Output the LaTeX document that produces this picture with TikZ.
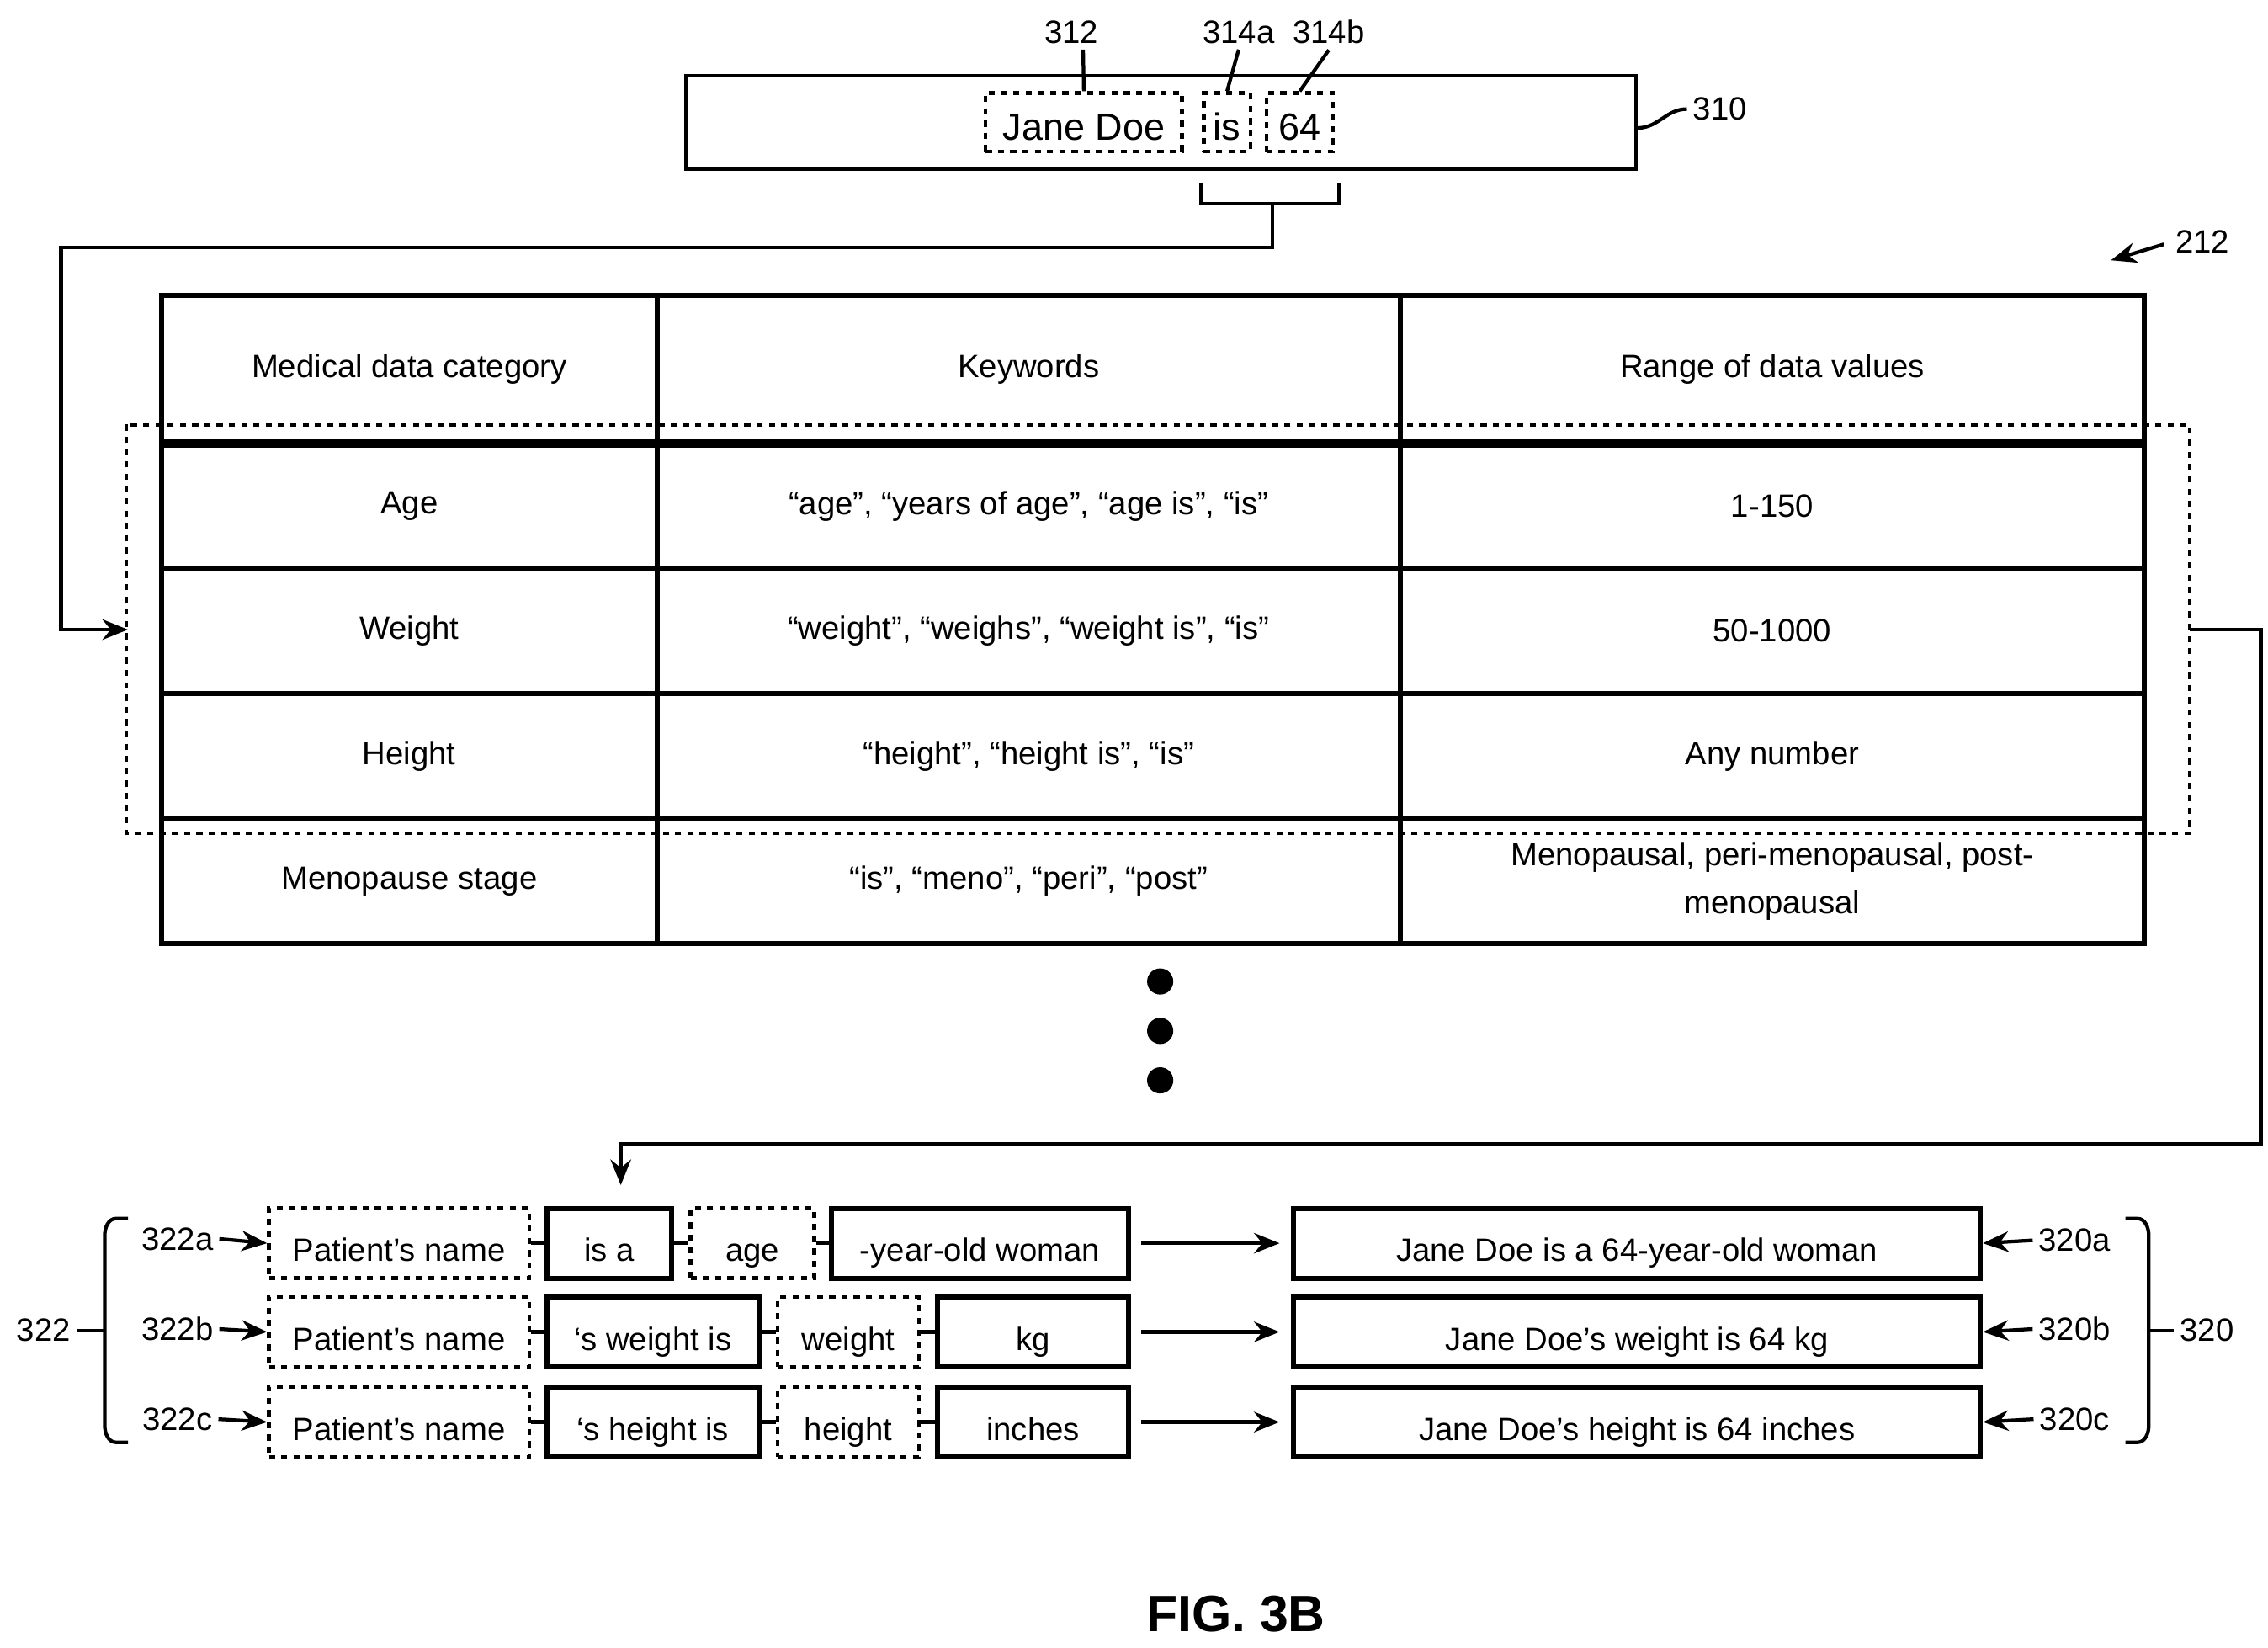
\documentclass[tikz,border=0pt]{standalone}
\usepackage{fontspec}
\setmainfont{Liberation Sans}
\usetikzlibrary{arrows.meta,calc}
\begin{document}
\begin{tikzpicture}[x=0.01cm,y=-0.01cm,
  every node/.style={font=\fontsize{6.3}{7.4}\selectfont},
  ln/.style={line width=0.7pt},
  dsh/.style={draw,dash pattern=on 1.2pt off 1.2pt,line width=0.7pt,inner sep=0,text height=1.45ex,text depth=0.1ex},
  sol/.style={draw,line width=1pt,inner sep=0,text height=1.45ex,text depth=0.1ex},
  arr/.style={line width=0.7pt,-{Stealth[length=5pt,width=4pt]}},
  lbl/.style={inner sep=1pt},
  big/.style={font=\fontsize{7.4}{8.4}\selectfont}]
\useasboundingbox (0,0) rectangle (1560,1133);
% sentence box 310
\node[draw,ln,minimum width=6.53cm,minimum height=0.64cm,inner sep=0] (s310) at (798.5,84) {};
\node[dsh,big,minimum width=1.35cm,minimum height=0.4cm] (jd) at (745.5,84) {Jane Doe};
\node[dsh,big,minimum width=0.32cm,minimum height=0.4cm] (is) at (844,84) {is};
\node[dsh,big,minimum width=0.46cm,minimum height=0.4cm] (n64) at (894,84) {64};
\node[lbl] (l312) at (737,22) {312};
\node[lbl] (l314a) at (852,22) {314a};
\node[lbl] (l314b) at (914,22) {314b};
\node[lbl] (l310) at (1183,75) {310};
\draw[ln] (l312.south) ++(8,0) -- (jd.north);
\draw[ln] (l314a.south) -- (is.north);
\draw[ln] (l314b.south) -- (n64.north);
\draw[ln] ([yshift=-0.04cm]s310.east) to[out=0,in=180] (l310.west);
% brace
\coordinate (bc) at (875,140);
\draw[ln] (826,126) -- (826,140) -- (921,140) -- (921,126);
\coordinate (tin) at (88,433);
\draw[arr] (bc) -- (875,170) -- (42,170) -- (42,433) -- (tin);
% 212
\node[lbl] (l212) at (1515,166) {212};
\draw[arr] (l212.west) ++(-4,2) -- (1452,179);
% table
\draw[line width=1pt] (111,203) rectangle (1475,649);
\foreach \x in {452,963} \draw[line width=1pt] (\x,203) -- (\x,649);
\foreach \y in {391,477,563} \draw[line width=1pt] (111,\y) -- (1475,\y);
\draw[line width=1.6pt] (111,305) -- (1475,305);
\draw[dsh] (87,292) rectangle (1506,573);
\node (h1) at (281.5,254) {Medical data category};
\node (h2) at (707.5,254) {Keywords};
\node (h3) at (1219,254) {Range of data values};
\node (a1) at (281.5,348) {Age};
\node (a2) at (707.5,348) {“age”, “years of age”, “age is”, “is”};
\node (a3) at (1219,348) {1-150};
\node (w1) at (281.5,434) {Weight};
\node (w2) at (707.5,434) {“weight”, “weighs”, “weight is”, “is”};
\node (w3) at (1219,434) {50-1000};
\node (t1) at (281.5,520) {Height};
\node (t2) at (707.5,520) {“height”, “height is”, “is”};
\node (t3) at (1219,520) {Any number};
\node (m1) at (281.5,606) {Menopause stage};
\node (m2) at (707.5,606) {“is”, “meno”, “peri”, “post”};
\node[align=center] (m3) at (1219,606) {Menopausal, peri-menopausal, post-\\[2pt]menopausal};
\foreach \y in {675,709,743} \fill (798,\y) circle (9);
% route to templates
\coordinate (tout) at (1506,433);
\coordinate (tgt) at (427,815);
\draw[arr] (tout) -- (1555,433) -- (1555,787) -- (427,787) -- (tgt);
% templates
\tikzset{bx/.style={minimum height=0.48cm}}
\foreach \r/\y in {a/855,b/916,c/978}{
  \node[dsh,bx,minimum width=1.79cm] (p\r) at (274.5,\y) {Patient’s name};
}
\node[sol,bx,minimum width=0.86cm] (qa) at (419,855) {is a};
\node[dsh,bx,minimum width=0.85cm] (ra) at (517.5,855) {age};
\node[sol,bx,minimum width=2.04cm] (sa) at (674,855) {-year-old woman};
\node[sol,bx,minimum width=1.46cm] (qb) at (449,916) {‘s weight is};
\node[dsh,bx,minimum width=0.97cm] (rb) at (583.5,916) {weight};
\node[sol,bx,minimum width=1.31cm] (sb) at (710.5,916) {kg};
\node[sol,bx,minimum width=1.46cm] (qc) at (449,978) {‘s height is};
\node[dsh,bx,minimum width=0.97cm] (rc) at (583.5,978) {height};
\node[sol,bx,minimum width=1.31cm] (sc) at (710.5,978) {inches};
\node[sol,bx,minimum width=4.72cm] (oa) at (1126,855) {Jane Doe is a 64-year-old woman};
\node[sol,bx,minimum width=4.72cm] (ob) at (1126,916) {Jane Doe’s weight is 64 kg};
\node[sol,bx,minimum width=4.72cm] (oc) at (1126,978) {Jane Doe’s height is 64 inches};
\foreach \r in {a,b,c}{
  \draw[ln] (p\r) -- (q\r);
  \draw[ln] (q\r) -- (r\r);
  \draw[ln] (r\r) -- (s\r);
  \draw[arr] ([xshift=0.07cm]s\r.east) -- ([xshift=-0.08cm]o\r.west);
}
\node[lbl] (l322a) at (122,852) {322a};
\node[lbl] (l322b) at (122,914) {322b};
\node[lbl] (l322c) at (122,976) {322c};
\node[lbl] (l320a) at (1427,853) {320a};
\node[lbl] (l320b) at (1427,914) {320b};
\node[lbl] (l320c) at (1427,976) {320c};
\foreach \r in {a,b,c}{
  \draw[arr] (l322\r.east) -- (p\r.west);
  \draw[arr] (l320\r.west) -- (o\r.east);
}
% side braces
\node[lbl] (l322) at (30,915) {322};
\node[lbl] (l320) at (1518,915) {320};
\draw[ln] (88,838) -- (80,838) to[out=180,in=90] (72,850) -- (72,980) to[out=-90,in=180] (80,992) -- (88,992);
\draw[ln] (l322.east) -- (72,915);
\draw[ln] (1462,838) -- (1470,838) to[out=0,in=90] (1478,850) -- (1478,980) to[out=-90,in=0] (1470,992) -- (1462,992);
\draw[ln] (1478,915) -- (l320.west);
\node[font=\fontsize{10}{12}\selectfont\bfseries] (fig) at (850,1110) {FIG. 3B};
\end{tikzpicture}
\end{document}
